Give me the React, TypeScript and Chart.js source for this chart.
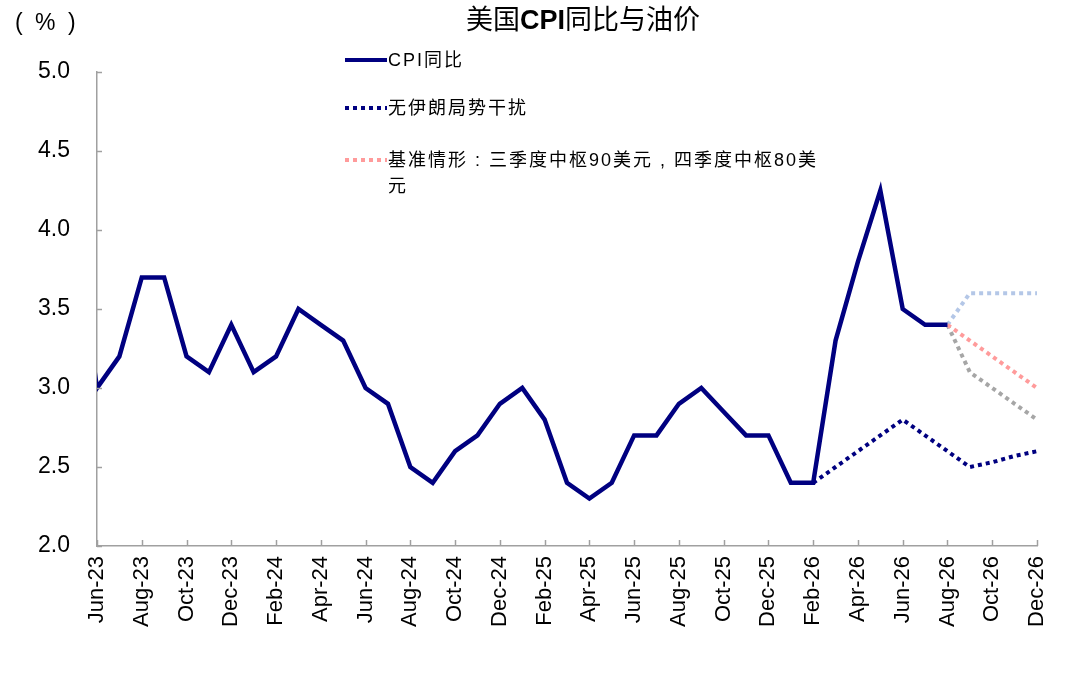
import React, { useEffect, useRef } from "react";
import { Chart, registerables } from "chart.js";
Chart.register(...registerables);

const months = [
  "May-23", "Jun-23", "Jul-23", "Aug-23", "Sep-23", "Oct-23", "Nov-23", "Dec-23",
  "Jan-24", "Feb-24", "Mar-24", "Apr-24", "May-24", "Jun-24", "Jul-24", "Aug-24", "Sep-24", "Oct-24", "Nov-24", "Dec-24",
  "Jan-25", "Feb-25", "Mar-25", "Apr-25", "May-25", "Jun-25", "Jul-25", "Aug-25", "Sep-25", "Oct-25", "Nov-25", "Dec-25",
  "Jan-26", "Feb-26", "Mar-26", "Apr-26", "May-26", "Jun-26", "Jul-26", "Aug-26", "Sep-26", "Oct-26", "Nov-26", "Dec-26",
];

// CPI YoY, May-23 .. Aug-26
const cpiValues = [
  4.0, 3.0, 3.2, 3.7, 3.7, 3.2, 3.1, 3.4,
  3.1, 3.2, 3.5, 3.4, 3.3, 3.0, 2.9, 2.5, 2.4, 2.6, 2.7, 2.9,
  3.0, 2.8, 2.4, 2.3, 2.4, 2.7, 2.7, 2.9, 3.0, 2.85, 2.7, 2.7,
  2.4, 2.4, 3.3, 3.8, 4.25, 3.5, 3.4, 3.4,
];

// No Iran disruption, Feb-26 .. Dec-26
const noIranStart = "Feb-26";
const noIranValues = [2.4, 2.5, 2.6, 2.7, 2.8, 2.7, 2.6, 2.5, 2.53, 2.57, 2.6];

// Scenarios, Aug-26 .. Dec-26
const scenarioStart = "Aug-26";
const baselineValues = [3.4, 3.3, 3.2, 3.1, 3.0];
const highValues = [3.4, 3.6, 3.6, 3.6, 3.6];
const lowValues = [3.4, 3.1, 3.0, 2.9, 2.8];

const yTicks = [2.0, 2.5, 3.0, 3.5, 4.0, 4.5, 5.0];
const firstShown = "Jun-23";

const NAVY = "#000080";
const PINK = "#FF9B9B";
const LIGHTBLUE = "#B4C7E7";
const GRAY = "#A6A6A6";
const AXIS = "#A0A0A0";

function align(start: string, vals: number[]) {
  const s = months.indexOf(start);
  return months.map((_, i) => (i >= s && i - s < vals.length ? vals[i - s] : null));
}

const tickPlugin = {
  id: "insideTicks",
  afterDraw(chart: any) {
    const { ctx, chartArea, scales } = chart;
    const x = scales.x;
    const y = scales.y;
    ctx.save();
    ctx.strokeStyle = AXIS;
    ctx.lineWidth = 1.5;
    const s = months.indexOf(firstShown);
    for (let i = s; i < months.length; i += 2) {
      const px = Math.round(x.getPixelForValue(i)) + 0.5;
      ctx.beginPath();
      ctx.moveTo(px, chartArea.bottom);
      ctx.lineTo(px, chartArea.bottom - 6);
      ctx.stroke();
    }
    for (const v of yTicks) {
      const py = Math.round(y.getPixelForValue(v)) + 0.5;
      ctx.beginPath();
      ctx.moveTo(chartArea.left, py);
      ctx.lineTo(chartArea.left + 5, py);
      ctx.stroke();
    }
    ctx.restore();
  },
};

const FONT = "'Liberation Sans', Arial, 'Noto Sans CJK SC', sans-serif";
const CJK = "'Liberation Sans', 'Noto Sans CJK SC', sans-serif";

function LegendLine({ color, dash }: { color: string; dash?: string }) {
  return (
    <svg width="42" height="8" style={{ display: "block" }}>
      <line x1="0" y1="4" x2="42" y2="4" stroke={color} strokeWidth="4" strokeDasharray={dash} />
    </svg>
  );
}

export default function App() {
  const ref = useRef<HTMLCanvasElement>(null);
  useEffect(() => {
    if (!ref.current) return;
    Chart.defaults.font.family = FONT;
    const cpiData = months.map((_, i) => (i < cpiValues.length ? cpiValues[i] : null));
    const chart = new Chart(ref.current, {
      type: "line",
      data: {
        labels: months,
        datasets: [
          { label: "CPI同比", data: cpiData, borderColor: NAVY, borderWidth: 4.5, pointRadius: 0, tension: 0 },
          { label: "无伊朗局势干扰", data: align(noIranStart, noIranValues), borderColor: NAVY, borderWidth: 4, borderDash: [4, 4], pointRadius: 0 },
          { label: "基准情形", data: align(scenarioStart, baselineValues), borderColor: PINK, borderWidth: 4, borderDash: [4, 4], pointRadius: 0 },
          { label: "高", data: align(scenarioStart, highValues), borderColor: LIGHTBLUE, borderWidth: 4, borderDash: [4, 4], pointRadius: 0 },
          { label: "低", data: align(scenarioStart, lowValues), borderColor: GRAY, borderWidth: 4, borderDash: [4, 4], pointRadius: 0 },
        ],
      },
      options: {
        responsive: false,
        animation: false,
        layout: { padding: { left: 0, top: 72, right: 43, bottom: 0 } },
        plugins: { legend: { display: false }, title: { display: false }, tooltip: { enabled: false } },
        scales: {
          x: {
            type: "category",
            min: firstShown,
            grid: { display: false, drawTicks: false },
            border: { display: true, color: AXIS, width: 1.5 },
            ticks: {
              autoSkip: false,
              minRotation: 90,
              maxRotation: 90,
              padding: 10,
              color: "#000",
              font: { size: 22 },
              callback: function (this: any, val: any) {
                const idx = Number(val);
                const s = months.indexOf(firstShown);
                return (idx - s) % 2 === 0 ? months[idx] : "";
              },
            },
            afterFit: (scale: any) => {
              scale.height = 127;
            },
          },
          y: {
            min: 2,
            max: 5,
            grid: { display: false, drawTicks: false },
            border: { display: true, color: AXIS, width: 1.5 },
            ticks: {
              stepSize: 0.5,
              padding: 27,
              color: "#000",
              font: { size: 23 },
              callback: (v: any) => Number(v).toFixed(1),
            },
            afterFit: (scale: any) => {
              scale.width = 97;
            },
          },
        },
      },
      plugins: [tickPlugin],
    });
    return () => chart.destroy();
  }, []);

  const textStyle: React.CSSProperties = {
    position: "absolute",
    fontFamily: CJK,
    fontSize: 18,
    color: "#000",
    letterSpacing: 2,
    lineHeight: "26px",
    whiteSpace: "nowrap",
  };

  return (
    <div style={{ position: "fixed", left: 0, top: 0, width: 1080, height: 673, background: "#fff" }}>
      <canvas ref={ref} width={1080} height={673} style={{ position: "absolute", left: 0, top: 0, width: 1080, height: 673 }} />
      <div style={{ position: "absolute", left: 0, width: 1166, top: 2, textAlign: "center", fontFamily: CJK, fontSize: 27, color: "#000", lineHeight: "36px" }}>
        美国<b>CPI</b>同比与油价
      </div>
      <div style={{ position: "absolute", left: 15, top: 7, fontFamily: FONT, fontSize: 23, color: "#000", lineHeight: "30px", whiteSpace: "pre", letterSpacing: 3 }}>
        {"( % )"}
      </div>
      <div style={{ position: "absolute", left: 345, top: 56 }}><LegendLine color={NAVY} /></div>
      <div style={{ ...textStyle, left: 388, top: 47 }}>CPI同比</div>
      <div style={{ position: "absolute", left: 345, top: 104 }}><LegendLine color={NAVY} dash="4 4" /></div>
      <div style={{ ...textStyle, left: 388, top: 95 }}>无伊朗局势干扰</div>
      <div style={{ position: "absolute", left: 345, top: 156 }}><LegendLine color={PINK} dash="4 4" /></div>
      <div style={{ ...textStyle, left: 388, top: 147, whiteSpace: "pre" }}>
        {"基准情形 : 三季度中枢90美元 , 四季度中枢80美"}
        <br />元
      </div>
    </div>
  );
}
